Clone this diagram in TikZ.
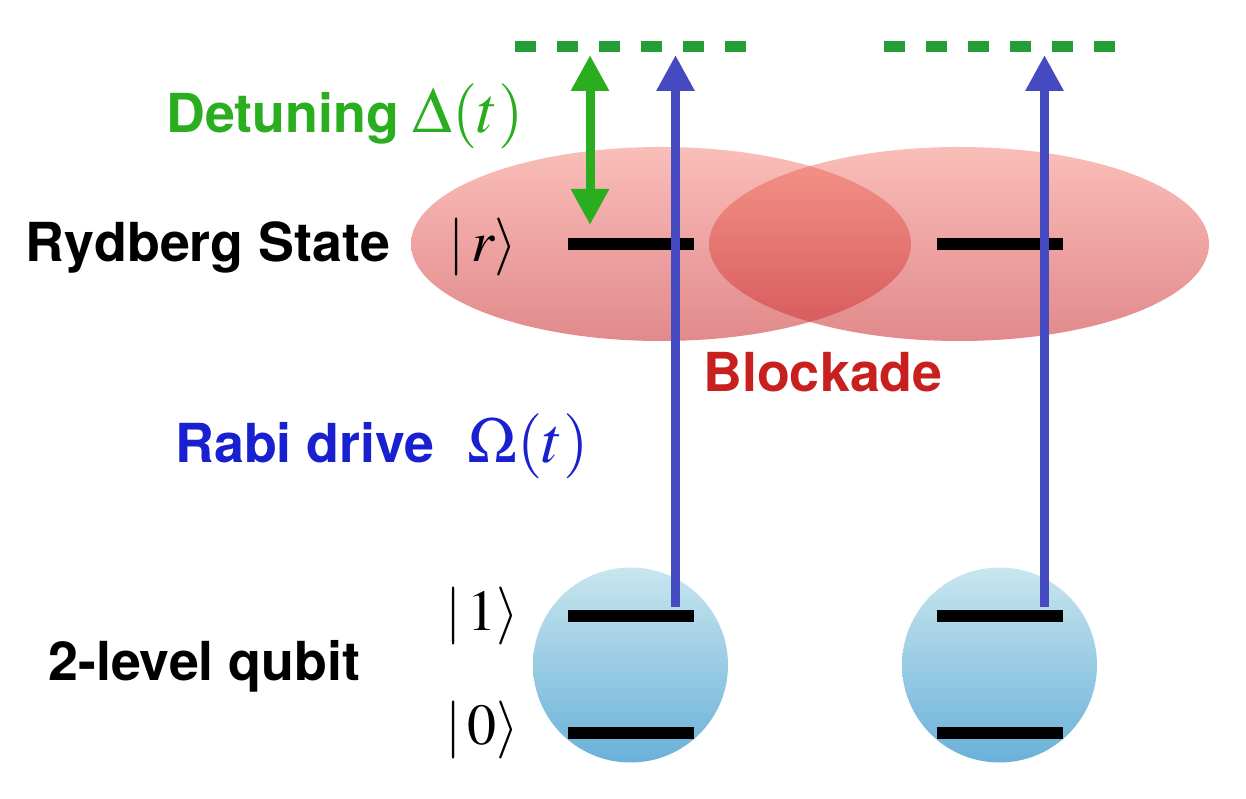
\documentclass[tikz,border=0pt]{standalone}
\usepackage{amsmath}
\usepackage{mathptmx}
\usepackage{fontspec}
\setmainfont{TeX Gyre Heros}
\usepackage{tikz}
\usetikzlibrary{arrows.meta,calc}

\definecolor{detgreen}{RGB}{42,174,31}
\definecolor{dashgreen}{RGB}{38,158,56}
\definecolor{rabiblue}{RGB}{24,32,208}
\definecolor{arrowblue}{RGB}{70,74,192}
\definecolor{blockred}{RGB}{200,32,30}
\definecolor{cloudtop}{RGB}{250,190,185}
\definecolor{cloudbot}{RGB}{225,137,139}
\definecolor{lenstop}{RGB}{245,150,138}
\definecolor{lensbot}{RGB}{213,87,90}
\definecolor{atomtop}{RGB}{200,230,238}
\definecolor{atombot}{RGB}{106,177,217}

\begin{document}
\begin{tikzpicture}[
  bigtext/.style={font=\fontsize{30.6}{36}\selectfont\bfseries, inner sep=0pt, anchor=base west},
  bigmath/.style={font=\fontsize{37}{42}\selectfont, inner sep=0pt, anchor=base west},
  ketfont/.style={font=\fontsize{33}{38}\selectfont, inner sep=0pt},
  level/.style={line width=0.24cm},
  cloud/.style={top color=cloudtop, bottom color=cloudbot},
  atom/.style={top color=atomtop, bottom color=atombot},
  drive/.style={draw=arrowblue, line width=0.18cm, -{Triangle[length=0.72cm,width=0.72cm]}},
  detune/.style={draw=detgreen, line width=0.18cm,
    {Triangle[length=0.72cm,width=0.72cm]}-{Triangle[length=0.72cm,width=0.72cm]}},
  virtual/.style={draw=dashgreen, line width=0.22cm, dash pattern=on 0.42cm off 0.42cm}
]
  \useasboundingbox (0,0) rectangle (24.92,15.96);

  % blockade clouds
  \shade[cloud] (13.22,11.08) ellipse (5.0cm and 1.94cm);
  \shade[cloud] (19.18,11.08) ellipse (5.0cm and 1.94cm);
  \begin{scope}
    \clip (13.22,11.08) ellipse (5.0cm and 1.94cm);
    \shade[top color=lenstop, bottom color=lensbot] (19.18,11.08) ellipse (5.0cm and 1.94cm);
  \end{scope}

  % atoms, levels and drives
  \foreach \x/\n in {12.61/L,19.99/R}{
    \shade[atom] (\x,2.66) circle (1.95cm);
    \coordinate (ryd\n) at (\x,11.08);
    \coordinate (one\n) at (\x,3.64);
    \coordinate (zero\n) at (\x,1.30);
    \draw[level] ($(ryd\n)+(-1.26,0)$) -- ($(ryd\n)+(1.26,0)$);
    \draw[level] ($(one\n)+(-1.26,0)$) -- ($(one\n)+(1.26,0)$);
    \draw[level] ($(zero\n)+(-1.26,0)$) -- ($(zero\n)+(1.26,0)$);
    \coordinate (virt\n) at (\x,15.02);
    \draw[virtual] ($(virt\n)+(-2.31,0)$) -- ($(virt\n)+(2.31,0)$);
    \coordinate (drvbot\n) at ($(one\n)+(0.9,0.18)$);
    \coordinate (drvtop\n) at ($(virt\n)+(0.9,-0.16)$);
    \draw[drive] (drvbot\n) -- (drvtop\n);
  }

  \coordinate (detup) at (11.8,14.86);
  \coordinate (detdown) at (11.8,11.46);
  \draw[detune] (detdown) -- (detup);

  % labels
  \node[bigtext, detgreen] (det) at (3.32,13.30) {Detuning};
  \node[bigmath, detgreen] (detsym) at (8.24,13.30) {$\Delta(t)$};
  \node[bigtext] (ryd) at (0.5,10.72) {Rydberg State};
  \node[ketfont] (ketr) at (9.66,11.02) {$|\,r\rangle$};
  \node[bigtext, blockred] (block) at (14.06,8.12) {Blockade};
  \node[bigtext, rabiblue] (rabi) at (3.5,6.70) {Rabi drive};
  \node[bigmath, rabiblue] (rabisym) at (9.34,6.70) {$\Omega(t)$};
  \node[bigtext] (qubit) at (0.96,2.36) {2-level qubit};
  \node[ketfont] (ketone) at (9.64,3.64) {$|\,1\rangle$};
  \node[ketfont] (ketzero) at (9.64,1.36) {$|\,0\rangle$};
\end{tikzpicture}
\end{document}
